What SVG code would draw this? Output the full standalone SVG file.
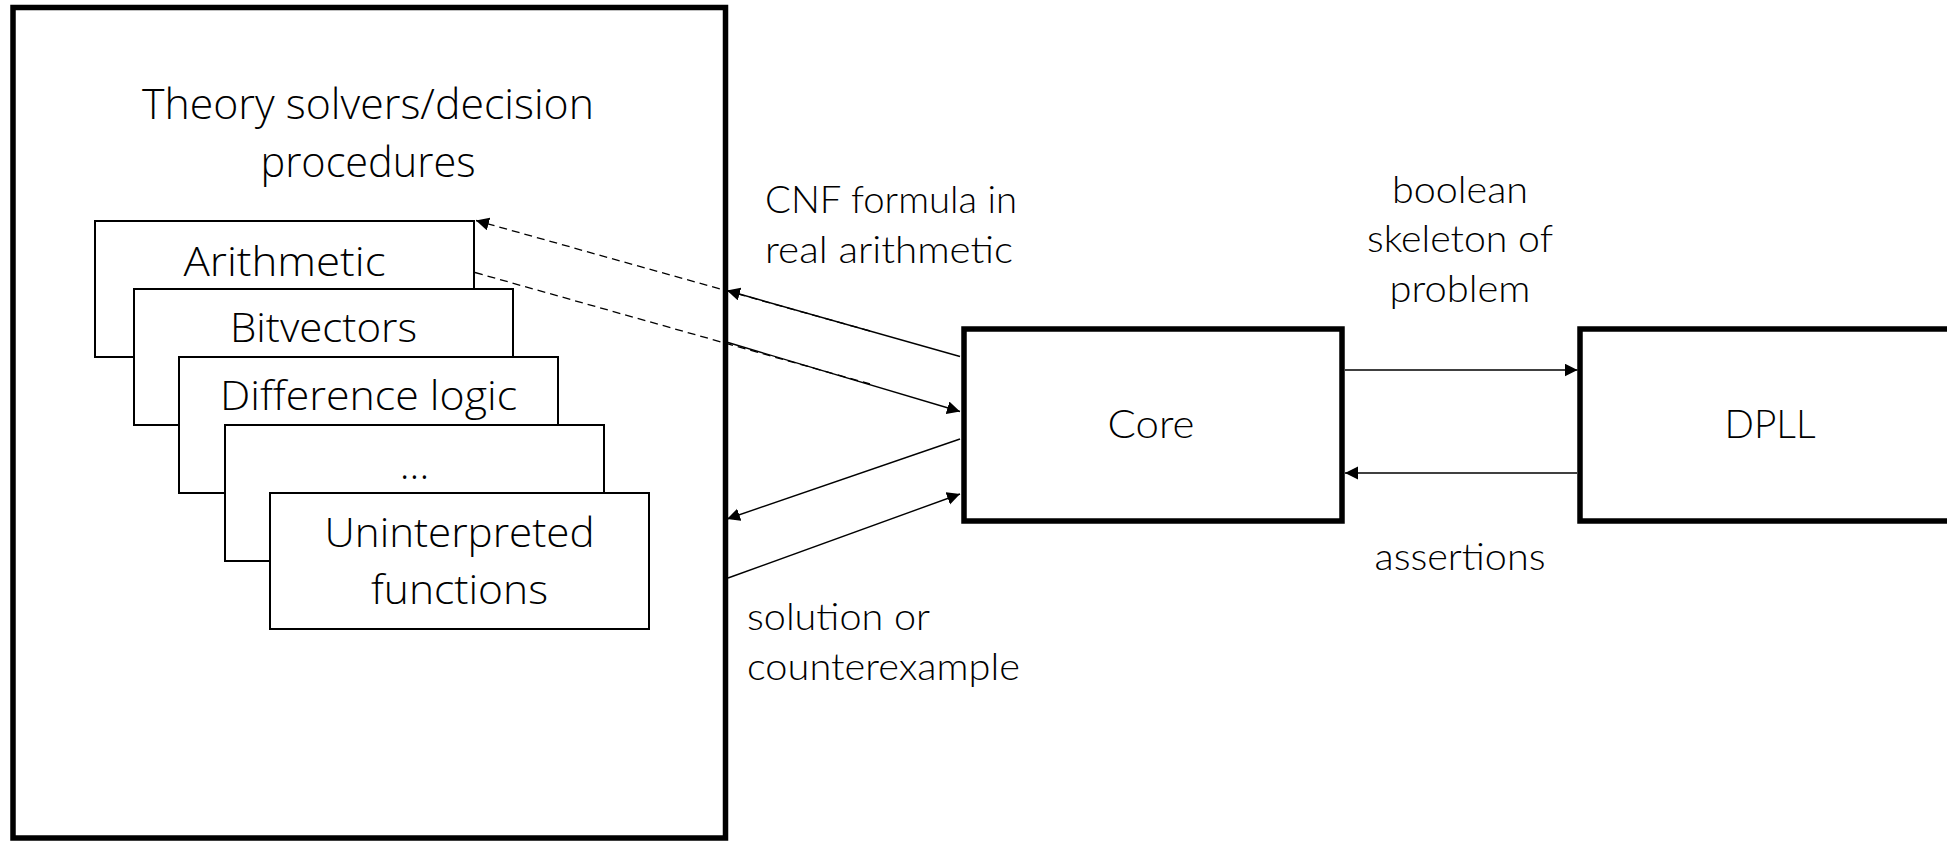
<svg xmlns="http://www.w3.org/2000/svg" width="1947" height="841" viewBox="0 0 1947 841">
<style>
.bg{fill:#ffffff}
.thick{fill:#ffffff;stroke:#000;stroke-width:5.5}
.thin{fill:#ffffff;stroke:#000;stroke-width:2}
.ls{font-family:"Open Sans","Segoe UI","DejaVu Sans",sans-serif;font-weight:300;fill:#000;text-anchor:middle}
.rs{font-family:Lato,"Open Sans","DejaVu Sans",sans-serif;font-weight:300;fill:#000;font-size:38px}
.mid{text-anchor:middle}
.conn{stroke:#000;stroke-width:1.4;fill:none}
.dash{stroke:#000;stroke-width:1.3;fill:none;stroke-dasharray:8 5}
</style>
<defs>
<marker id="ah" markerUnits="userSpaceOnUse" markerWidth="14" markerHeight="14" refX="13" refY="6.5" orient="auto">
<path d="M0,0 L13,6.5 L0,13 z" fill="#000"/>
</marker>
</defs>
<rect class="bg" x="0" y="0" width="1947" height="841"/>

<g id="theory">
<rect class="thick" x="13" y="7.5" width="712.5" height="830.5"/>
<text class="ls" x="368" y="119" font-size="42" textLength="452" lengthAdjust="spacingAndGlyphs">Theory solvers/decision</text>
<text class="ls" x="368" y="177" font-size="42" textLength="215" lengthAdjust="spacingAndGlyphs">procedures</text>
</g>
<g id="arith">
<rect class="thin" x="95" y="221" width="379" height="136"/>
<text class="ls" x="284.5" y="276" font-size="41" textLength="202" lengthAdjust="spacingAndGlyphs">Arithmetic</text>
</g>
<g id="bitvec">
<rect class="thin" x="134" y="289" width="379" height="136"/>
<text class="ls" x="323.5" y="342" font-size="41" textLength="187" lengthAdjust="spacingAndGlyphs">Bitvectors</text>
</g>
<g id="difflogic">
<rect class="thin" x="179" y="357" width="379" height="136"/>
<text class="ls" x="368.5" y="410" font-size="41" textLength="297" lengthAdjust="spacingAndGlyphs">Difference logic</text>
</g>
<g id="etc">
<rect class="thin" x="225" y="425" width="379" height="136"/>
<text class="ls" x="414.5" y="479" font-size="41">...</text>
</g>
<g id="uf">
<rect class="thin" x="270" y="493" width="379" height="136"/>
<text class="ls" x="459.5" y="547" font-size="41" textLength="270" lengthAdjust="spacingAndGlyphs">Uninterpreted</text>
<text class="ls" x="459.5" y="604" font-size="41" textLength="177" lengthAdjust="spacingAndGlyphs">functions</text>
</g>
<g id="core">
<rect class="thick" x="964" y="329" width="378" height="192"/>
<text class="rs mid" x="1151" y="438" font-size="40" style="font-size:40px" textLength="87" lengthAdjust="spacingAndGlyphs">Core</text>
</g>
<g id="dpll">
<rect class="thick" x="1580" y="329" width="400" height="192"/>
<text class="rs mid" x="1770" y="438" style="font-size:40px" textLength="91" lengthAdjust="spacingAndGlyphs">DPLL</text>
</g>

<g id="connectors">
<line class="conn" x1="960" y1="356.5" x2="727" y2="290.5" marker-end="url(#ah)"/>
<line class="dash" x1="870" y1="331" x2="476" y2="220.5" marker-end="url(#ah)"/>
<line class="dash" x1="475" y1="272.5" x2="870" y2="384"/>
<line class="conn" x1="728" y1="342.5" x2="960" y2="411.5" marker-end="url(#ah)"/>
<line class="conn" x1="960" y1="439" x2="727" y2="519" marker-end="url(#ah)"/>
<line class="conn" x1="728" y1="578" x2="960" y2="494" marker-end="url(#ah)"/>
<line class="conn" x1="1345" y1="370" x2="1577.5" y2="370" marker-end="url(#ah)"/>
<line class="conn" x1="1577" y1="473" x2="1345" y2="473" marker-end="url(#ah)"/>
</g>

<g id="labels">
<text class="rs" x="765" y="213" textLength="252" lengthAdjust="spacingAndGlyphs">CNF formula in</text>
<text class="rs" x="765" y="263" textLength="248" lengthAdjust="spacingAndGlyphs">real arithmetic</text>
<text class="rs mid" x="1460" y="203" textLength="136" lengthAdjust="spacingAndGlyphs">boolean</text>
<text class="rs mid" x="1460" y="252" textLength="186" lengthAdjust="spacingAndGlyphs">skeleton of</text>
<text class="rs mid" x="1460" y="302" textLength="141" lengthAdjust="spacingAndGlyphs">problem</text>
<text class="rs mid" x="1460" y="570" textLength="171" lengthAdjust="spacingAndGlyphs">assertions</text>
<text class="rs" x="747" y="630" textLength="183" lengthAdjust="spacingAndGlyphs">solution or</text>
<text class="rs" x="747" y="680" textLength="273" lengthAdjust="spacingAndGlyphs">counterexample</text>
</g>
</svg>
